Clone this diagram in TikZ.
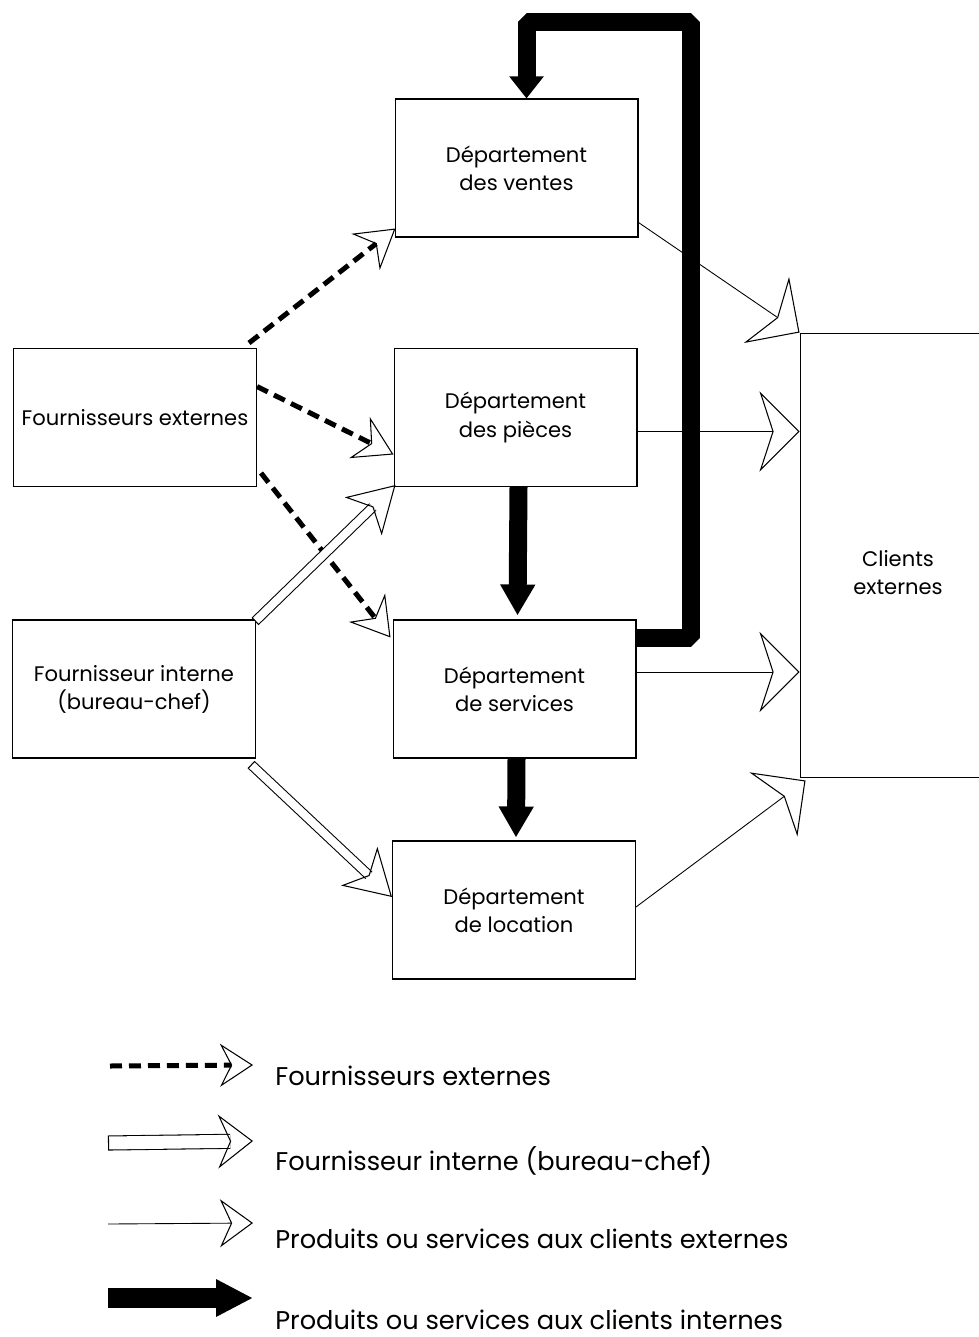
\documentclass[tikz,border=0pt]{standalone}
\usepackage{fontspec}
\setmainfont{Poppins}
\usetikzlibrary{positioning}
\usetikzlibrary{calc}
\usetikzlibrary{arrows.meta}

\begin{document}
\begin{tikzpicture}[x=0.02cm, y=-0.02cm,
        dept/.style={draw, line width=0.6pt, minimum width=48.6mm, minimum height=27.6mm, align=center, font=\fontsize{12}{16}\selectfont},
        dasharrow/.style={line width=1mm, dash pattern=on 2.4mm off 1.4mm, -{Stealth[open, length=7.6mm, width=9.2mm, inset=2.6mm, line width=0.6pt]}},
        hollowarrow/.style={double, line width=0.6pt, double distance=1.6mm, {Bar[width=2mm, line width=0.6pt]}-{Stealth[open, length=9mm, width=10.6mm, inset=2.6mm, line width=0.6pt]}},
        prodarrow/.style={line width=0.5pt, -{Stealth[open, length=8mm, width=16mm, inset=2.6mm, line width=0.6pt]}},
        intarrow/.style={line width=3.6mm, line join=bevel, -{Triangle[length=6.2mm, width=6.6mm]}},
        smallhead/.style={-{Stealth[open, length=6.6mm, width=8.6mm, inset=2.2mm, line width=0.6pt]}},
        legtext/.style={anchor=west, inner sep=0pt, font=\fontsize{14.6}{16}\selectfont}]
        \useasboundingbox (0,0) rectangle (979,1337);

        \node[dept] (ventes) at (516.5,168) {Département\\des ventes};
        \node[dept] (pieces) at (515.5,417.5) {Département\\des pièces};
        \node[dept] (services) at (514.5,689) {Département\\de services};
        \node[dept] (location) at (514,910) {Département\\de location};
        \node[dept] (fext) at (135,417.5) {Fournisseurs externes};
        \node[dept] (fint) at (134,689) {Fournisseur interne\\(bureau-chef)};
        \node[draw, line width=0.6pt, minimum width=46mm, minimum height=89mm] (clients) at (915,555.5) {};
        \node[align=center, font=\fontsize{12}{16}\selectfont] (clientstxt) at (898,573) {Clients\\externes};

        \draw[dasharrow] ($(fext.north east)+(-8,-5)$) -- ($(ventes.south west)+(1,-9)$);
        \draw[dasharrow] ($(fext.east)+(0,-31)$) -- ($(pieces.west)+(0,37)$);
        \draw[dasharrow] ($(fext.south east)+(4,-14)$) -- ($(services.north west)+(-2,18)$);

        \draw[hollowarrow] ($(fint.north east)+(-1,2)$) -- ($(pieces.south west)+(2,-2)$);
        \draw[hollowarrow] ($(fint.south east)+(-5,6)$) -- ($(location.west)+(0,-13)$);

        \draw[prodarrow] ($(ventes.south east)+(0,-15)$) -- (clients.north west);
        \draw[prodarrow] ($(pieces.east)+(0,14)$) coordinate (p2) -- (p2 -| clients.west);
        \draw[prodarrow] ($(services.east)+(0,-17)$) coordinate (p3) -- (p3 -| clients.west);
        \draw[prodarrow] ($(location.east)+(0,-3)$) -- ($(clients.south west)+(6,2)$);

        \draw[intarrow] ($(pieces.south)+(3,0)$) -- ($(services.north)+(3,-4)$);
        \draw[intarrow] ($(services.south)+(2,0)$) -- ($(location.north)+(2,-3)$);
        \draw[intarrow, -{Triangle[length=4.4mm, width=6.6mm]}] ($(services.north east)+(0,19)$) -| (691,22.5) -| ($(ventes.north)+(10,0)$);

        \node[legtext] (lg1) at (275,1076) {Fournisseurs externes};
        \node[legtext] (lg2) at (275,1161) {Fournisseur interne (bureau-chef)};
        \node[legtext] (lg3) at (275,1239) {Produits ou services aux clients externes};
        \node[legtext] (lg4) at (275,1320) {Produits ou services aux clients internes};

        \draw[dasharrow, smallhead] ($(lg1.west)+(-165,-10)$) -- ($(lg1.west)+(-22,-11)$);
        \draw[hollowarrow, double distance=2.6mm, {Bar[width=3mm, line width=0.6pt]}-{Stealth[open, length=7mm, width=10.8mm, inset=2.4mm, line width=0.6pt]}] ($(lg2.west)+(-167,-18)$) -- ($(lg2.west)+(-22,-20)$);
        \draw[prodarrow, -{Stealth[open, length=6.6mm, width=9.6mm, inset=2.2mm, line width=0.6pt]}] ($(lg3.west)+(-167,-15)$) -- ($(lg3.west)+(-22,-16)$);
        \draw[intarrow, line width=4mm, -{Triangle[length=7.4mm, width=7mm]}] ($(lg4.west)+(-167,-22)$) -- ($(lg4.west)+(-22,-22)$);
    \end{tikzpicture}
\end{document}
